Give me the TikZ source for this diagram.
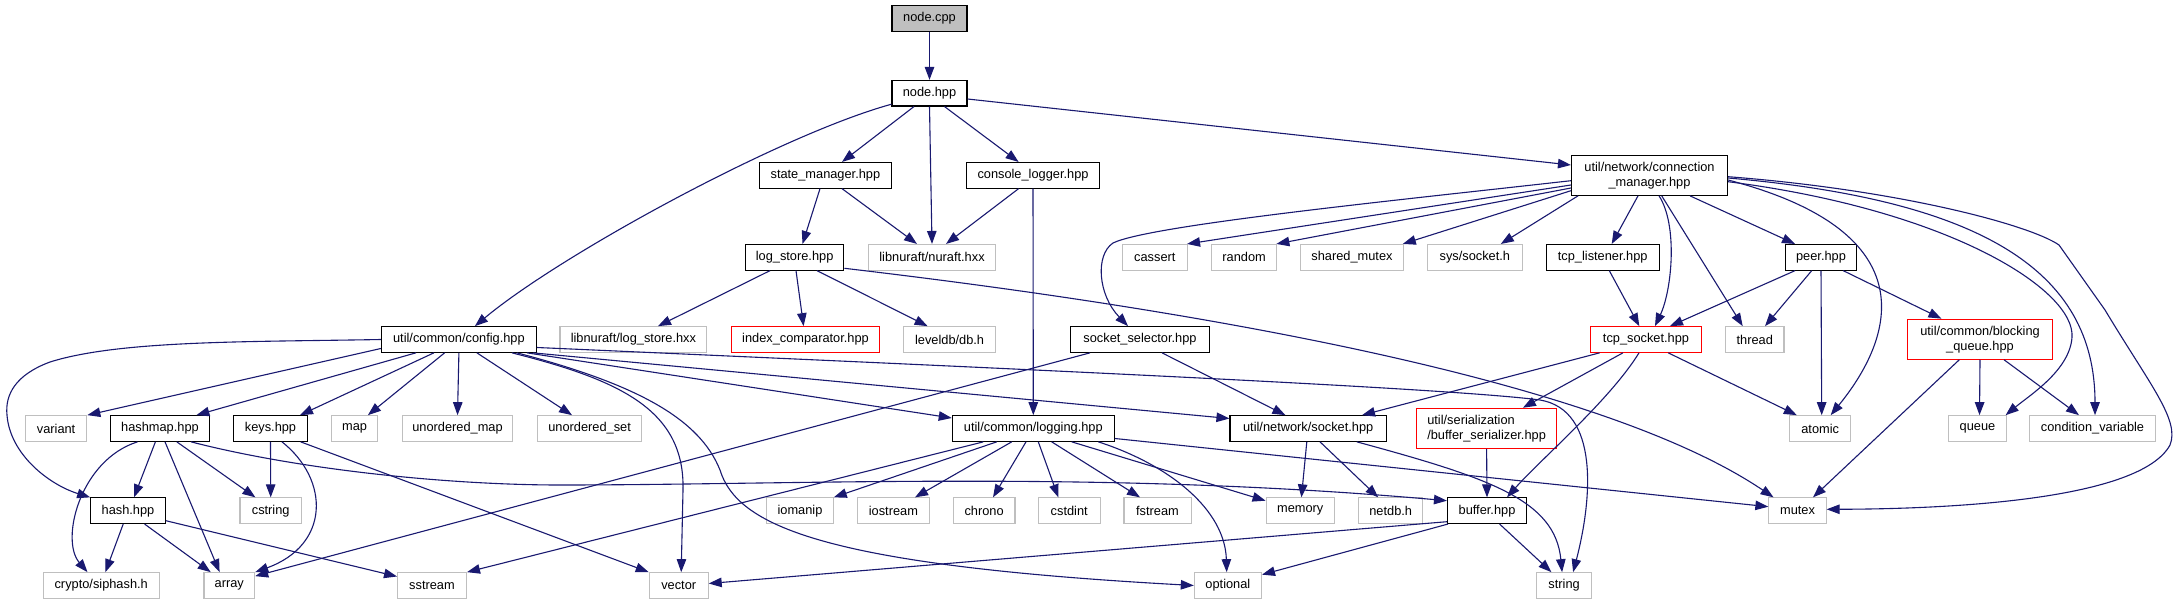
\documentclass[tikz,border=0pt]{standalone}
\usepackage{fontspec}
\setmainfont{Liberation Sans}
\usetikzlibrary{arrows.meta}
\definecolor{edgec}{HTML}{191970}
\definecolor{gry}{HTML}{BFBFBF}
\definecolor{redc}{HTML}{FF0000}
\tikzset{
  box/.style={rectangle, draw=black, line width=1.1pt, inner sep=0pt, minimum height=25.6pt, font=\fontsize{12.8}{15}\selectfont, text=black},
  extbox/.style={box, draw=gry},
  incbox/.style={box, draw=redc},
  twoline/.style={minimum height=40pt},
  e/.style={draw=edgec, line width=1.1pt, -{Triangle[length=13pt,width=9.5pt]}, fill=none},
}
\begin{document}
\begin{tikzpicture}[x=1pt,y=-1pt]
\fill[white] (0,0) rectangle (2184,604);
\useasboundingbox (0,0) rectangle (2184,604);
% row 1-2
\node[box, fill=gry, minimum width=75pt] (ncpp) at (929.5,18.5) {node.cpp};
\node[box, minimum width=75pt] (nhpp) at (929.5,93.2) {node.hpp};
% row 3
\node[box, minimum width=132pt] (sm) at (825.4,175.3) {state\_manager.hpp};
\node[box, minimum width=132.5pt] (cl) at (1033,175.3) {console\_logger.hpp};
\node[box, twoline, minimum width=156pt, align=center] (cm) at (1649.5,175.3) {util/network/connection\\\_manager.hpp};
% row 4
\node[box, minimum width=98.5pt] (ls) at (794.6,257.3) {log\_store.hpp};
\node[extbox, minimum width=127.5pt] (nuraft) at (932,257.3) {libnuraft/nuraft.hxx};
\node[extbox, minimum width=65.4pt] (cassert) at (1154.8,257.3) {cassert};
\node[extbox, minimum width=65.4pt] (random) at (1244.1,257.3) {random};
\node[extbox, minimum width=102.5pt] (shm) at (1352,257.3) {shared\_mutex};
\node[extbox, minimum width=94.6pt] (syssock) at (1474.8,257.3) {sys/socket.h};
\node[box, minimum width=113pt] (tcpl) at (1602.7,257.3) {tcp\_listener.hpp};
\node[box, minimum width=70.7pt] (peer) at (1821,257.3) {peer.hpp};
% row 5
\node[box, minimum width=155pt] (config) at (458.9,339.5) {util/common/config.hpp};
\node[extbox, minimum width=146.8pt] (lsh) at (633.4,339.5) {libnuraft/log\_store.hxx};
\node[incbox, minimum width=148pt] (idx) at (805.5,339.5) {index\_comparator.hpp};
\node[extbox, minimum width=91.5pt] (leveldb) at (949.6,339.5) {leveldb/db.h};
\node[box, minimum width=138.6pt] (ssel) at (1140,339.5) {socket\_selector.hpp};
\node[incbox, minimum width=110.6pt] (tcps) at (1646,339.5) {tcp\_socket.hpp};
\node[extbox, minimum width=58.3pt] (thread) at (1754.8,339.5) {thread};
\node[incbox, twoline, minimum width=144.3pt, align=center] (bq) at (1980,339.2) {util/common/blocking\\\_queue.hpp};
% row 6
\node[extbox, minimum width=61.4pt] (variant) at (56.1,428.5) {variant};
\node[box, minimum width=98.6pt] (hashmap) at (160,428.5) {hashmap.hpp};
\node[box, minimum width=73.2pt] (keys) at (270.5,428.5) {keys.hpp};
\node[extbox, minimum width=46.4pt] (map) at (354.6,428.5) {map};
\node[extbox, minimum width=110.7pt] (umap) at (457.5,428.5) {unordered\_map};
\node[extbox, minimum width=104.3pt] (uset) at (589.6,428.5) {unordered\_set};
\node[box, minimum width=162pt] (logging) at (1033.3,428.5) {util/common/logging.hpp};
\node[box, minimum width=156.4pt] (socket) at (1308.2,428.5) {util/network/socket.hpp};
\node[incbox, twoline, minimum width=140.4pt, align=left] (bser) at (1486.6,428.3) {util/serialization\\/buffer\_serializer.hpp};
\node[extbox, minimum width=61pt] (atomic) at (1820.2,428.5) {atomic};
\node[extbox, minimum width=57.2pt] (queue) at (1977.5,428.5) {queue};
\node[extbox, minimum width=125.7pt] (condvar) at (2092.5,428.5) {condition\_variable};
% row 7
\node[box, minimum width=74.6pt] (hash) at (128,510.7) {hash.hpp};
\node[extbox, minimum width=61.4pt] (cstring) at (270.7,510.7) {cstring};
\node[extbox, minimum width=66.4pt] (iomanip) at (800,510.7) {iomanip};
\node[extbox, minimum width=71.8pt] (iostream) at (893.4,510.7) {iostream};
\node[extbox, minimum width=61.8pt] (chrono) at (984.1,510.7) {chrono};
\node[extbox, minimum width=61.8pt] (cstdint) at (1069.2,510.7) {cstdint};
\node[extbox, minimum width=67.1pt] (fstream) at (1157.5,510.7) {fstream};
\node[extbox, minimum width=68.2pt] (memory) at (1300.2,510.7) {memory};
\node[extbox, minimum width=64.3pt] (netdb) at (1390.7,510.7) {netdb.h};
\node[box, minimum width=79pt] (buffer) at (1487,510.7) {buffer.hpp};
\node[extbox, minimum width=57.2pt] (mutex) at (1797.5,510.7) {mutex};
% row 8
\node[extbox, minimum width=116pt] (crypto) at (101.2,585.5) {crypto/siphash.h};
\node[extbox, minimum width=50.7pt] (array) at (229.3,585.5) {array};
\node[extbox, minimum width=68.9pt] (sstream) at (432,585.5) {sstream};
\node[extbox, minimum width=58.9pt] (vector) at (678.7,585.5) {vector};
\node[extbox, minimum width=67.1pt] (optional) at (1227.9,585.5) {optional};
\node[extbox, minimum width=54.6pt] (string) at (1564.1,585.5) {string};

% edges
\draw[e] (ncpp) -- (nhpp);
\draw[e] ([xshift=-15.5]nhpp.south) -- ([xshift=16.6]sm.north);
\draw[e] (nhpp.south) -- (nuraft.north);
\draw[e] ([xshift=15]nhpp.south) -- ([xshift=-14.4]cl.north);
\draw[e] ([yshift=-11]nhpp.west) .. controls (780,135) and (560,255) .. ([xshift=16]config.north);
\draw[e] ([yshift=-5.8]nhpp.east) -- ([yshift=10.3]cm.west);
\draw[e] ([xshift=-5.4]sm.south) -- ([xshift=7.9]ls.north);
\draw[e] ([xshift=16.6]sm.south) -- ([xshift=-15]nuraft.north);
\draw[e] ([xshift=-14.4]cl.south) -- ([xshift=14]nuraft.north);
\draw[e] (cl.south) -- (logging.north);
\draw[e] ([xshift=-24.6]ls.south) -- ([xshift=24.6]lsh.north);
\draw[e] ([xshift=1.4]ls.south) -- ([xshift=-1.9]idx.north);
\draw[e] ([xshift=22.4]ls.south) -- ([xshift=-22]leveldb.north);
\draw[e] ([yshift=-11]ls.east) .. controls (1200,310) and (1600,380) .. ([xshift=-24]mutex.north);
% connection manager
\draw[e] ([yshift=-5.4]cm.west) .. controls (1400,200) and (1150,225) .. (1113,243) .. controls (1095,255) and (1098,295) .. ([xshift=-12]ssel.north);
\draw[e] ([yshift=-9.7]cm.west) -- ([xshift=-1]cassert.north east);
\draw[e] ([yshift=-12.7]cm.west) -- ([xshift=-1]random.north east);
\draw[e] ([yshift=-15.4]cm.west) -- ([xshift=-1]shm.north east);
\draw[e] ([xshift=-71.5]cm.south) -- ([xshift=26]syssock.north);
\draw[e] ([xshift=-11.5]cm.south) -- ([xshift=9]tcpl.north);
\draw[e] ([xshift=9.5]cm.south) .. controls (1678,225) and (1672,290) .. ([xshift=9]tcps.north);
\draw[e] ([xshift=12.2]cm.south) -- ([xshift=-12.1]thread.north);
\draw[e] ([xshift=40.5]cm.south) -- ([xshift=-26]peer.north);
\draw[e] ([yshift=-4.7]cm.east) .. controls (1920,230) and (1900,330) .. ([xshift=10.5]atomic.north);
\draw[e] ([yshift=-6.4]cm.east) .. controls (1950,210) and (2075,290) .. (2072,337) .. controls (2070,370) and (2030,395) .. ([xshift=-1]queue.north east);
\draw[e] ([yshift=-2.7]cm.east) .. controls (1980,200) and (2095,270) .. ([xshift=2.5]condvar.north);
\draw[e] ([yshift=-1.4]cm.east) .. controls (1900,190) and (2030,225) .. (2059,245) -- (2105,310) .. controls (2150,385) and (2180,420) .. (2170,445) .. controls (2140,500) and (1950,509) .. ([yshift=1.4]mutex.east);
% tcp / peer / queue
\draw[e] ([xshift=6.6]tcpl.south) -- ([xshift=-6.7]tcps.north);
\draw[e] ([xshift=-26]peer.south) -- ([xshift=24]tcps.north);
\draw[e] ([xshift=-9.3]peer.south) -- ([xshift=10.2]thread.north);
\draw[e] (peer.south) -- ([xshift=1.5]atomic.north);
\draw[e] ([xshift=22.2]peer.south) -- ([xshift=-38.6]bq.north);
\draw[e] ([xshift=-20.7]bq.south) -- ([xshift=15.5]mutex.north);
\draw[e] (bq.south) -- ([xshift=2]queue.north);
\draw[e] ([xshift=24]bq.south) -- ([xshift=-13.5]condvar.north);
\draw[e] ([xshift=-46.4]tcps.south) -- ([xshift=53.8]socket.north);
\draw[e] ([xshift=-23.1]tcps.south) -- ([xshift=36.3]bser.north);
\draw[e] ([xshift=22.2]tcps.south) -- ([xshift=-23.4]atomic.north);
\draw[e] ([xshift=-7]tcps.south) .. controls (1610,400) and (1540,460) .. ([xshift=20]buffer.north);
\draw[e] (bser.south) -- (buffer.north);
\draw[e] ([xshift=22]ssel.south) -- ([xshift=-22.8]socket.north);
\draw[e] ([xshift=-50]ssel.south) -- ([yshift=-4]array.north east);
% config
\draw[e] ([yshift=-9]config.west) -- (variant.north east);
\draw[e] ([xshift=-43]config.south) -- ([xshift=36.4]hashmap.north);
\draw[e] ([xshift=-25]config.south) -- ([xshift=29.5]keys.north);
\draw[e] ([xshift=-14.3]config.south) -- ([xshift=13.3]map.north);
\draw[e] (config.south) -- (umap.north);
\draw[e] ([xshift=18]config.south) -- ([xshift=-17.6]uset.north);
\draw[e] (config.west) .. controls (250,342) and (120,340) .. (50,362) .. controls (15,375) and (5,395) .. (7,415) .. controls (10,455) and (50,485) .. (hash.north west);
\draw[e] ([xshift=-25]config.south east) .. controls (620,380) and (685,410) .. (683,490) -- ([xshift=2.5]vector.north);
\draw[e] ([xshift=-20]config.south east) .. controls (640,385) and (700,420) .. (720,470) .. controls (737,525) and (820,565) .. (optional.west);
\draw[e] ([xshift=-10]config.south east) -- ([yshift=10.5]logging.west);
\draw[e] ([xshift=-4]config.south east) -- ([yshift=10]socket.west);
\draw[e] ([yshift=-8]config.east) .. controls (1000,368) and (1450,388) .. (1540,400) .. controls (1600,410) and (1592,500) .. ([xshift=9]string.north);
% hashmap, keys, hash
\draw[e] ([xshift=-4.6]hashmap.south) -- ([xshift=6]hash.north);
\draw[e] ([xshift=-22.5]hashmap.south) .. controls (80,460) and (60,540) .. ([xshift=-13.7]crypto.north);
\draw[e] ([xshift=5]hashmap.south) -- ([xshift=-9.7]array.north);
\draw[e] ([xshift=16.8]hashmap.south) -- ([xshift=-15.3]cstring.north);
\draw[e] ([xshift=31]hashmap.south) .. controls (300,470) and (450,485) .. (560,485) .. controls (800,485) and (1100,470) .. ([yshift=10]buffer.west);
\draw[e] (keys.south) -- (cstring.north);
\draw[e] ([xshift=11.5]keys.south) .. controls (330,480) and (330,545) .. (array.north east);
\draw[e] ([xshift=-7]keys.south east) -- (vector.north west);
\draw[e] ([xshift=-4.8]hash.south) -- ([xshift=4.2]crypto.north);
\draw[e] ([xshift=16.6]hash.south) -- ([xshift=-18.6]array.north);
\draw[e] ([yshift=-10]hash.east) -- ([yshift=9]sstream.west);
% logging
\draw[e] ([xshift=-50]logging.south) -- (sstream.north east);
\draw[e] ([xshift=-36.6]logging.south) -- (iomanip.north east);
\draw[e] ([xshift=-21.6]logging.south) -- ([xshift=21.6]iostream.north);
\draw[e] ([xshift=-7.3]logging.south) -- ([xshift=8.9]chrono.north);
\draw[e] ([xshift=5]logging.south) -- ([xshift=-10.9]cstdint.north);
\draw[e] ([xshift=18.4]logging.south) -- ([xshift=-17.5]fstream.north);
\draw[e] ([xshift=38.4]logging.south) -- ([yshift=10]memory.west);
\draw[e] ([xshift=65]logging.south) .. controls (1170,465) and (1225,510) .. ([xshift=-1.2]optional.north);
\draw[e] ([yshift=-10]logging.east) -- ([yshift=4]mutex.west);
% socket, buffer
\draw[e] ([xshift=-1.4]socket.south) -- ([xshift=1.2]memory.north);
\draw[e] ([xshift=11.8]socket.south) -- ([xshift=-12.5]netdb.north);
\draw[e] ([xshift=48.6]socket.south) .. controls (1490,478) and (1555,500) .. ([xshift=-2]string.north);
\draw[e] ([yshift=-11]buffer.west) -- ([yshift=2]vector.east);
\draw[e] ([xshift=1]buffer.south west) -- ([yshift=-2.5]optional.north east);
\draw[e] ([xshift=12.6]buffer.south) -- ([xshift=-12.7]string.north);
\end{tikzpicture}
\end{document}
